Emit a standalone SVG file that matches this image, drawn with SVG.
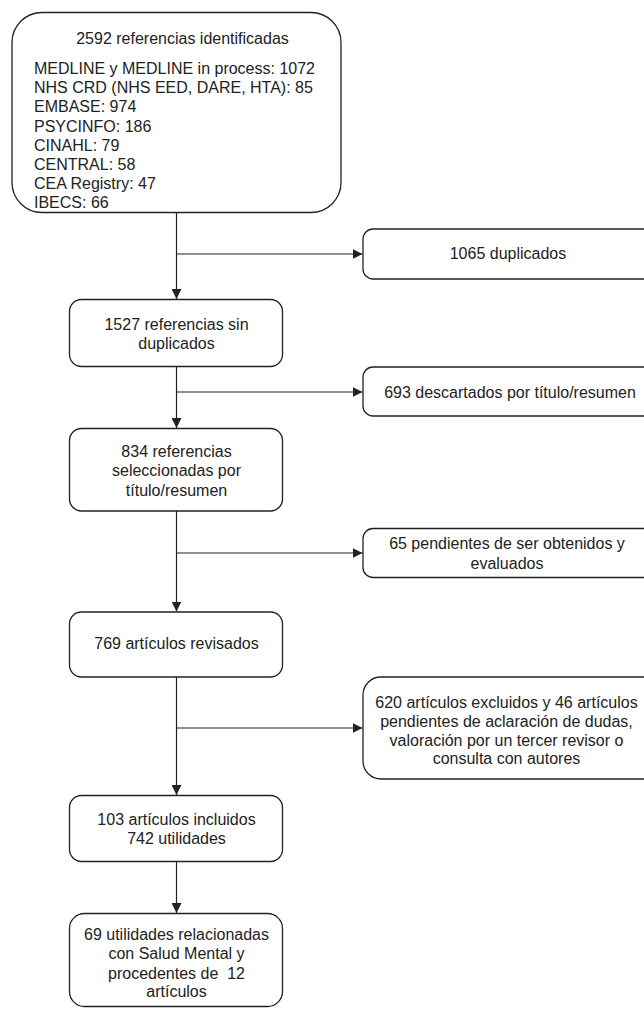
<svg xmlns="http://www.w3.org/2000/svg" width="644" height="1009" viewBox="0 0 644 1009">
<defs>
<style>
.box{fill:#fff;stroke:#222;stroke-width:1.3}
.t{font-family:"Liberation Sans",Arial,sans-serif;font-size:16px;fill:#222}
.c{text-anchor:middle}
.ln{stroke:#222;stroke-width:1.2;fill:none}
</style>
<marker id="ah" markerWidth="10" markerHeight="10" refX="10" refY="5" orient="auto" markerUnits="userSpaceOnUse">
<path d="M0,0 L10,5 L0,10 Z" fill="#222"/>
</marker>
</defs>
<rect width="644" height="1009" fill="#fff"/>
<g id="connectors">
<line class="ln" x1="176.5" y1="212.5" x2="176.5" y2="299" marker-end="url(#ah)"/>
<line class="ln" x1="176.5" y1="254" x2="362.5" y2="254" marker-end="url(#ah)"/>
<line class="ln" x1="176.5" y1="367" x2="176.5" y2="428" marker-end="url(#ah)"/>
<line class="ln" x1="176.5" y1="392" x2="362.5" y2="392" marker-end="url(#ah)"/>
<line class="ln" x1="176.5" y1="511" x2="176.5" y2="611.5" marker-end="url(#ah)"/>
<line class="ln" x1="176.5" y1="553" x2="362.5" y2="553" marker-end="url(#ah)"/>
<line class="ln" x1="176.5" y1="677" x2="176.5" y2="795" marker-end="url(#ah)"/>
<line class="ln" x1="176.5" y1="728" x2="362.5" y2="728" marker-end="url(#ah)"/>
<line class="ln" x1="176.5" y1="862" x2="176.5" y2="913" marker-end="url(#ah)"/>
</g>
<g id="n1">
<rect class="box" x="12" y="12.5" width="329" height="200" rx="30"/>
<text class="t c" x="182.5" y="44">2592 referencias identificadas</text>
<text class="t" x="34" y="74">MEDLINE y MEDLINE in process: 1072</text>
<text class="t" x="34" y="93.2">NHS CRD (NHS EED, DARE, HTA): 85</text>
<text class="t" x="34" y="112.4">EMBASE: 974</text>
<text class="t" x="34" y="131.6">PSYCINFO: 186</text>
<text class="t" x="34" y="150.8">CINAHL: 79</text>
<text class="t" x="34" y="170">CENTRAL: 58</text>
<text class="t" x="34" y="189.2">CEA Registry: 47</text>
<text class="t" x="34" y="208.4">IBECS: 66</text>
</g>
<g id="n2">
<rect class="box" x="363" y="229" width="300" height="50" rx="10"/>
<text class="t c" x="508" y="259">1065 duplicados</text>
</g>
<g id="n3">
<rect class="box" x="69.5" y="299.5" width="213" height="67" rx="12"/>
<text class="t c" x="176.5" y="330">1527 referencias sin</text>
<text class="t c" x="176.5" y="349">duplicados</text>
</g>
<g id="n4">
<rect class="box" x="363" y="367" width="300" height="49" rx="10"/>
<text class="t c" x="510" y="398">693 descartados por título/resumen</text>
</g>
<g id="n5">
<rect class="box" x="69.5" y="428.5" width="213" height="82.5" rx="12"/>
<text class="t c" x="176.5" y="456.5">834 referencias</text>
<text class="t c" x="176.5" y="476">seleccionadas por</text>
<text class="t c" x="176.5" y="495.5">título/resumen</text>
</g>
<g id="n6">
<rect class="box" x="363" y="528.5" width="300" height="49" rx="10"/>
<text class="t c" x="507" y="549">65 pendientes de ser obtenidos y</text>
<text class="t c" x="507" y="568.5">evaluados</text>
</g>
<g id="n7">
<rect class="box" x="69.5" y="612" width="213" height="65" rx="12"/>
<text class="t c" x="176.5" y="649">769 artículos revisados</text>
</g>
<g id="n8">
<rect class="box" x="363" y="677" width="300" height="102" rx="18"/>
<text class="t c" x="506.5" y="707.5">620 artículos excluidos y 46 artículos</text>
<text class="t c" x="506.5" y="726.5">pendientes de aclaración de dudas,</text>
<text class="t c" x="506.5" y="745.5">valoración por un tercer revisor o</text>
<text class="t c" x="506.5" y="764">consulta con autores</text>
</g>
<g id="n9">
<rect class="box" x="69.5" y="795.5" width="213" height="66" rx="12"/>
<text class="t c" x="176.5" y="825">103 artículos incluidos</text>
<text class="t c" x="176.5" y="844">742 utilidades</text>
</g>
<g id="n10">
<rect class="box" x="69.5" y="913.5" width="213" height="93" rx="15"/>
<text class="t c" x="176.5" y="940">69 utilidades relacionadas</text>
<text class="t c" x="176.5" y="959">con Salud Mental y</text>
<text class="t c" x="176.5" y="978.5" xml:space="preserve">procedentes de  12</text>
<text class="t c" x="176.5" y="997">artículos</text>
</g>
</svg>
